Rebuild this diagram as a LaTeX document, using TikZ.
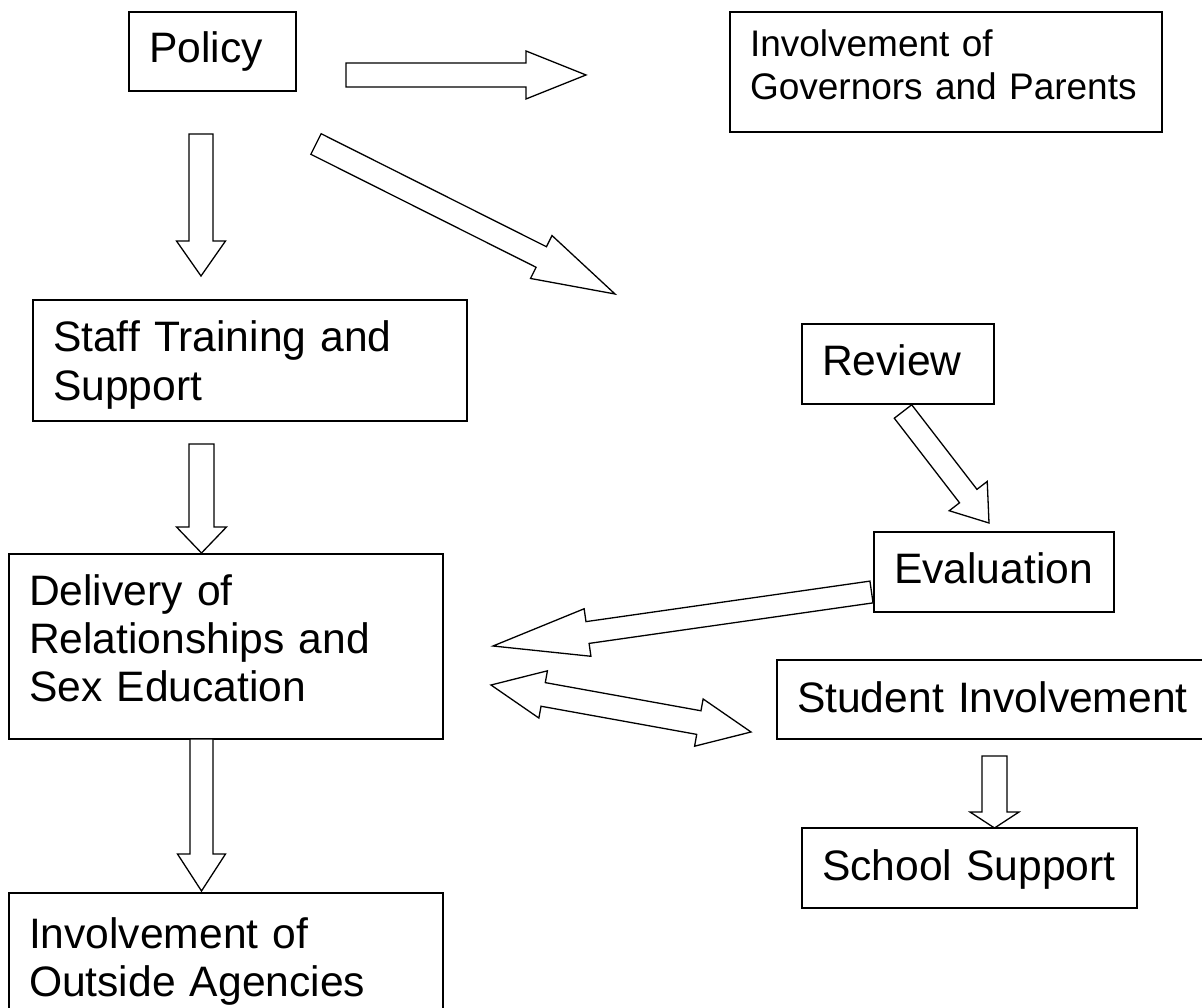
\documentclass[tikz,border=0pt]{standalone}
\usepackage{fontspec}
\setmainfont{Liberation Sans}
\usetikzlibrary{calc}
\tikzstyle{box}=[draw,line width=1.6pt,outer sep=0pt,inner xsep=20pt,inner ysep=0pt,align=left,anchor=north west,text height=51pt,font=\fontsize{42.6pt}{48pt}\selectfont]
\tikzstyle{hollow}=[draw,line width=1.3pt,fill=white,line join=miter]

% hollow block arrow: from, to, half shaft, half head, head length
\newcommand{\blockarrow}[5]{%
	\coordinate (bh) at ($(#2)!#5!(#1)$);
	\draw[hollow] ($(#1)!#3!90:(#2)$) -- ($(bh)!#3!90:(#2)$) -- ($(bh)!#4!90:(#2)$) -- (#2)
		-- ($(bh)!#4!-90:(#2)$) -- ($(bh)!#3!-90:(#2)$) -- ($(#1)!#3!-90:(#2)$) -- cycle;
}
% same with a head at both ends
\newcommand{\twowayarrow}[5]{%
	\coordinate (ba) at ($(#1)!#5!(#2)$);
	\coordinate (bb) at ($(#2)!#5!(#1)$);
	\draw[hollow] (#1) -- ($(ba)!#4!90:(#2)$) -- ($(ba)!#3!90:(#2)$) -- ($(bb)!#3!90:(#2)$) -- ($(bb)!#4!90:(#2)$) -- (#2)
		-- ($(bb)!#4!-90:(#2)$) -- ($(bb)!#3!-90:(#2)$) -- ($(ba)!#3!-90:(#2)$) -- ($(ba)!#4!-90:(#2)$) -- cycle;
}

\begin{document}
\begin{tikzpicture}[x=1pt,y=-1pt]
		\useasboundingbox (0,0) rectangle (1202,1008);
		\node[box,text width=127pt,text depth=28pt] at (129, 12) (policy) {Policy};
		\node[box,text width=392pt,text height=45pt,text depth=75pt,font=\fontsize{37pt}{43pt}\selectfont] at (730, 12) (gov) {Involvement of\\Governors and Parents};
		\node[box,text width=394pt,text height=52pt,text depth=69pt] at (33, 300) (staff) {Staff Training and\\Support};
		\node[box,text width=152pt,text depth=29pt] at (802, 324) (review) {Review};
		\node[box,text width=200pt,text depth=29pt] at (874, 532) (eval) {Evaluation};
		\node[box,text width=394pt,text depth=134pt] at (9, 554) (delivery) {Delivery of\\Relationships and\\Sex Education};
		\node[box,text width=393pt,text height=52pt,text depth=27pt] at (777, 660) (student) {Student Involvement};
		\node[box,text width=295pt,text height=52pt,text depth=28pt] at (802, 828) (school) {School Support};
		\node[box,text width=394pt,text height=55pt,text depth=80pt] at (9, 893) (outside) {Involvement of\\Outside Agencies};
		% arrow ends
		\coordinate (pg1) at (346, 75);
		\coordinate (pg2) at (586, 75);
		\coordinate (ps1) at (201, 134);
		\coordinate (ps2) at (201, 276);
		\coordinate (pr1) at (316, 144);
		\coordinate (pr2) at (615, 294);
		\coordinate (sd1) at (201.5, 444);
		\coordinate (sd2) at (201.5, 553);
		\coordinate (re1) at (903, 411.5);
		\coordinate (re2) at (989, 523);
		\coordinate (ed1) at (871.5, 592);
		\coordinate (ed2) at (493, 646);
		\coordinate (ds1) at (491, 685);
		\coordinate (ds2) at (751, 732);
		\coordinate (ss1) at (994.5, 756);
		\coordinate (ss2) at (994.5, 828);
		\coordinate (do1) at (201.5, 739);
		\coordinate (do2) at (201.5, 891);
		\blockarrow{pg1}{pg2}{12pt}{24pt}{60pt}
		\blockarrow{ps1}{ps2}{12pt}{24.5pt}{35pt}
		\blockarrow{pr1}{pr2}{11.5pt}{24pt}{82.5pt}
		\blockarrow{sd1}{sd2}{12.5pt}{25pt}{26pt}
		\blockarrow{re1}{re2}{11pt}{24pt}{34pt}
		\blockarrow{ed1}{ed2}{11pt}{24pt}{95.5pt}
		\twowayarrow{ds1}{ds2}{12pt}{24pt}{53pt}
		\blockarrow{ss1}{ss2}{12.5pt}{24.5pt}{16pt}
		\blockarrow{do1}{do2}{11.5pt}{24pt}{37pt}
		\end{tikzpicture}
\end{document}
